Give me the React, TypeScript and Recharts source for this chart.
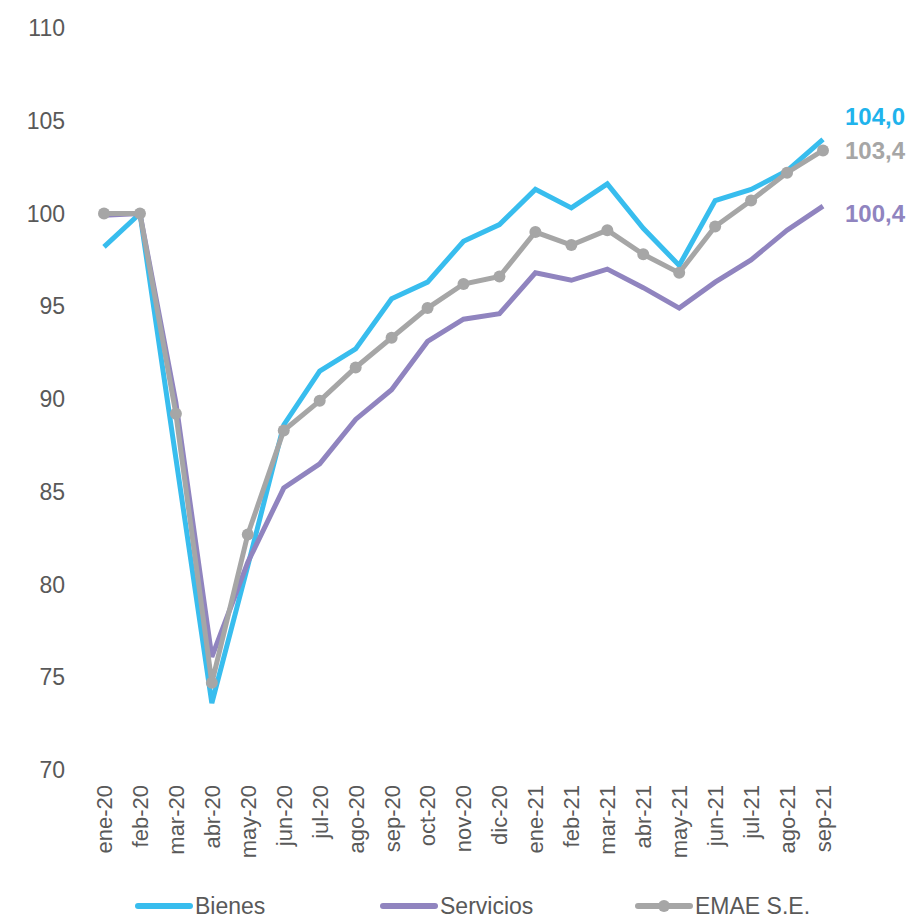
import React from "react";
import { LineChart, Line, XAxis, YAxis, Legend, LabelList } from "recharts";

const months = [
  "ene-20", "feb-20", "mar-20", "abr-20", "may-20", "jun-20", "jul-20",
  "ago-20", "sep-20", "oct-20", "nov-20", "dic-20", "ene-21", "feb-21",
  "mar-21", "abr-21", "may-21", "jun-21", "jul-21", "ago-21", "sep-21",
];

const bienes = [
  98.2, 100.0, 86.8, 73.6, 81.0, 88.6, 91.5, 92.7, 95.4, 96.3, 98.5,
  99.4, 101.3, 100.3, 101.6, 99.2, 97.2, 100.7, 101.3, 102.3, 104.0,
];

const servicios = [
  99.9, 100.0, 89.8, 76.1, 81.2, 85.2, 86.5, 88.9, 90.5, 93.1, 94.3,
  94.6, 96.8, 96.4, 97.0, 96.0, 94.9, 96.3, 97.5, 99.1, 100.4,
];

const emae = [
  100.0, 100.0, 89.2, 74.7, 82.7, 88.3, 89.9, 91.7, 93.3, 94.9, 96.2,
  96.6, 99.0, 98.3, 99.1, 97.8, 96.8, 99.3, 100.7, 102.2, 103.4,
];

const yTicks = [70, 75, 80, 85, 90, 95, 100, 105, 110];

const data = months.map((m, i) => ({
  month: m,
  bienes: bienes[i],
  servicios: servicios[i],
  emae: emae[i],
}));

const BLUE = "#38BDEE";
const PURPLE = "#9084BF";
const GREY = "#A6A6A6";
const TEXT = "#595959";
const FONT = '"Liberation Sans", Arial, sans-serif';

const fmt = (v: number) => v.toFixed(1).replace(".", ",");

// label only on the last point, nudged so the three don't overlap
const endLabel = (color: string, dy: number) => (props: any) => {
  const { x, y, index, value } = props;
  if (index !== months.length - 1) return null;
  return (
    <text
      x={x + 22}
      y={y + dy}
      fill={color}
      fontSize={24}
      fontWeight="bold"
      fontFamily={FONT}
      dominantBaseline="central"
    >
      {fmt(value)}
    </text>
  );
};

const XTick = ({ x, y, payload }: any) => (
  <text
    x={x}
    y={y}
    transform={`rotate(-90 ${x} ${y})`}
    textAnchor="end"
    dy="0.36em"
    fill={TEXT}
    fontSize={22}
    fontFamily={FONT}
  >
    {payload.value}
  </text>
);

const legendItems = [
  { name: "Bienes", color: BLUE, dot: false, left: 134 },
  { name: "Servicios", color: PURPLE, dot: false, left: 379 },
  { name: "EMAE S.E.", color: GREY, dot: true, left: 634 },
];

const ChartLegend = () => (
  <div style={{ position: "relative", width: 913, height: 30 }}>
    {legendItems.map((it) => (
      <div
        key={it.name}
        style={{
          position: "absolute",
          left: it.left,
          top: 0,
          height: 30,
          display: "flex",
          alignItems: "center",
          fontFamily: FONT,
          fontSize: 23,
          color: TEXT,
        }}
      >
        <svg width={60} height={30}>
          <line x1={4} y1={15} x2={56} y2={15} stroke={it.color} strokeWidth={6} strokeLinecap="round" />
          {it.dot && <circle cx={30} cy={15} r={6} fill={it.color} />}
        </svg>
        <span style={{ marginLeft: 1 }}>{it.name}</span>
      </div>
    ))}
  </div>
);

export default function App() {
  return (
    <div style={{ position: "absolute", left: 0, top: 0, background: "#fff" }}>
      <LineChart
        width={913}
        height={921}
        data={data}
        margin={{ top: 28, right: 72, bottom: 0, left: 0 }}
      >
        <XAxis
          dataKey="month"
          interval={0}
          padding={{ left: 18, right: 18 }}
          axisLine={false}
          tickLine={false}
          tickSize={0}
          tickMargin={15}
          height={121}
          tick={<XTick />}
        />
        <YAxis
          domain={[70, 110]}
          ticks={yTicks}
          interval={0}
          width={86}
          axisLine={false}
          tickLine={false}
          tickSize={0}
          tickMargin={21}
          tick={{ fill: TEXT, fontSize: 23, fontFamily: FONT }}
        />
        <Legend
          verticalAlign="bottom"
          align="left"
          height={30}
          wrapperStyle={{ left: 0, width: 913 }}
          content={<ChartLegend />}
        />
        <Line
          dataKey="bienes"
          stroke={BLUE}
          strokeWidth={5}
          dot={false}
          type="linear"
          isAnimationActive={false}
        >
          <LabelList dataKey="bienes" content={endLabel("#1FB3EC", -23)} />
        </Line>
        <Line
          dataKey="servicios"
          stroke={PURPLE}
          strokeWidth={5}
          dot={false}
          type="linear"
          isAnimationActive={false}
        >
          <LabelList dataKey="servicios" content={endLabel(PURPLE, 7)} />
        </Line>
        <Line
          dataKey="emae"
          stroke={GREY}
          strokeWidth={5}
          dot={{ r: 6, fill: GREY, stroke: "none" }}
          type="linear"
          isAnimationActive={false}
        >
          <LabelList dataKey="emae" content={endLabel(GREY, 0)} />
        </Line>
      </LineChart>
    </div>
  );
}
